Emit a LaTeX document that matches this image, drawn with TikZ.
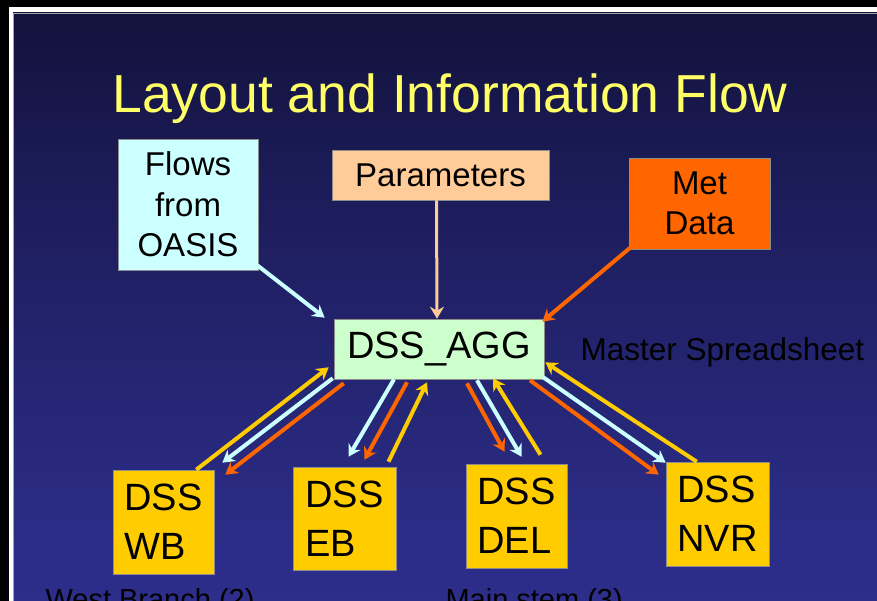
\documentclass[tikz,border=0pt]{standalone}
\usepackage{fontspec}
\setmainfont{Liberation Sans}
\usepackage{xcolor}
\usetikzlibrary{arrows.meta,calc}

\definecolor{slideA}{HTML}{2F3190}
\definecolor{slideB}{HTML}{2C2D88}
\definecolor{slideC}{HTML}{1C1C5A}
\definecolor{slideD}{HTML}{0C0C28}
\definecolor{slideE}{HTML}{020208}
\pgfdeclareverticalshading{slideshade}{100bp}{color(0bp)=(slideA); color(30bp)=(slideB); color(60bp)=(slideC); color(85bp)=(slideD); color(100bp)=(slideE)}

\begin{document}
\begin{tikzpicture}[x=1pt,y=-1pt,
	box/.style={draw=black!45, line width=0.6pt, inner sep=0pt, align=center, text=black},
	dssbox/.style={box, fill=dssyellow, align=left, minimum width=101pt, minimum height=104pt,
		font=\fontsize{38}{49}\selectfont},
	flow/.style={line width=4pt, -{Stealth[length=12pt,width=14pt,inset=4pt]}},
	]

	\definecolor{flowcyan}{HTML}{CCFFFF}
	\definecolor{parpeach}{HTML}{FFCC99}
	\definecolor{metorange}{HTML}{FF6600}
	\definecolor{agggreen}{HTML}{CCFFCC}
	\definecolor{dssyellow}{HTML}{FFCC00}
	\definecolor{titleyellow}{HTML}{FFFF66}

	\useasboundingbox (0,0) rectangle (877,601);
	\clip (0,0) rectangle (877,601);

	% frame and slide
	\fill[black] (0,0) rectangle (877,601);
	\fill[white] (9,7) rectangle (877,601);
	\shade[shading=slideshade, draw=black!35, line width=0.8pt] (13,13) rectangle (880,605);

	% title
	\node[anchor=base, text=titleyellow, font=\fontsize{53.5}{60}\selectfont] (title) at (450,113)
		{Layout and Information Flow};

	% inputs
	\node[box, fill=flowcyan, minimum width=140pt, minimum height=131pt,
		font=\fontsize{33}{40.5}\selectfont] (flows) at (188,204.5) {Flows\\from\\OASIS};
	\node[box, fill=parpeach, minimum width=217pt, minimum height=50pt,
		font=\fontsize{33}{40.5}\selectfont] (params) at (440.5,175) {Parameters};
	\node[box, fill=metorange, minimum width=141pt, minimum height=91pt,
		font=\fontsize{33}{40}\selectfont] (met) at (699.5,203.5) {Met\\Data};

	% master spreadsheet
	\node[box, fill=agggreen, minimum width=210pt, minimum height=60pt,
		font=\fontsize{38}{45}\selectfont] (agg) at (439,349) {DSS\_AGG};
	\node[anchor=base west, font=\fontsize{31.5}{36}\selectfont] (master) at (577,360)
		{Master Spreadsheet};

	% branch spreadsheets
	\node[dssbox] (wb)  at (163.5,522)   {DSS\\WB};
	\node[dssbox, minimum width=103pt, minimum height=103pt] (eb) at (344.5,518.5) {DSS\\EB};
	\node[dssbox] (del) at (516.5,516)   {DSS\\DEL};
	\node[dssbox, minimum width=103pt] (nvr) at (717.5,514) {DSS\\NVR};

	% group labels
	\node[anchor=base west, font=\fontsize{29}{34}\selectfont] (westlbl) at (42,609) {West Branch (2)};
	\node[anchor=base west, font=\fontsize{29}{34}\selectfont] (mainlbl) at (442,609) {Main stem (3)};

	% inputs to DSS_AGG
	\draw[flow, flowcyan] ([xshift=-1pt,yshift=5pt]flows.south east) -- ([xshift=-9pt,yshift=1pt]agg.north west);
	\draw[flow, parpeach, line width=3pt] ([xshift=-4pt]params.south) -- ([xshift=-2pt]agg.north);
	\draw[flow, metorange] ([xshift=2pt,yshift=2pt]met.south west) -- ([xshift=-2pt,yshift=-3pt]agg.north east);

	% west branch
	\draw[flow, dssyellow] ([xshift=-18pt]wb.north east) -- ([xshift=-5pt,yshift=12pt]agg.south west);
	\draw[flow, flowcyan] ([xshift=-1pt,yshift=1pt]agg.south west) -- ([xshift=8pt,yshift=7pt]wb.north east);
	\draw[flow, metorange] ([xshift=10pt,yshift=-4pt]agg.south west) -- ([xshift=11pt,yshift=-5pt]wb.north east);

	% east branch
	\draw[flow, flowcyan] ([xshift=-45pt]agg.south) -- ([xshift=4pt,yshift=10pt]eb.north);
	\draw[flow, metorange] ([xshift=-32pt,yshift=-3pt]agg.south) -- ([xshift=20pt,yshift=7pt]eb.north);
	\draw[flow, dssyellow] ([xshift=44pt,yshift=5pt]eb.north) -- ([xshift=-12pt,yshift=-3pt]agg.south);

	% main stem
	\draw[flow, metorange] ([xshift=28pt,yshift=-4pt]agg.south) -- ([xshift=-12pt,yshift=12pt]del.north);
	\draw[flow, flowcyan] ([xshift=38pt,yshift=-1pt]agg.south) -- ([xshift=5pt,yshift=7pt]del.north);
	\draw[flow, dssyellow] ([xshift=24pt,yshift=9pt]del.north) -- ([xshift=54pt,yshift=1pt]agg.south);

	\draw[flow, metorange] ([xshift=91pt,yshift=-1pt]agg.south) -- ([xshift=-7pt,yshift=-13pt]nvr.north west);
	\draw[flow, flowcyan] ([xshift=-1pt,yshift=2pt]agg.south east) -- ([yshift=-1pt]nvr.north west);
	\draw[flow, dssyellow] ([xshift=31pt]nvr.north west) -- ([xshift=1pt,yshift=17pt]agg.south east);

\end{tikzpicture}
\end{document}
